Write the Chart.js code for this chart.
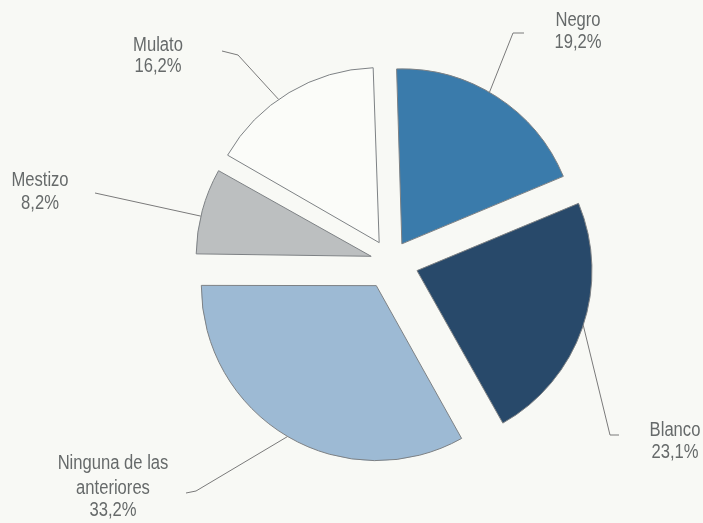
<!DOCTYPE html>
<html>
<head>
<meta charset="utf-8">
<script src="https://cdn.jsdelivr.net/npm/chart.js@4/dist/chart.umd.min.js"></script>
<style>
  html, body { margin: 0; padding: 0; background: #f8f9f5; }
  #wrap { width: 703px; height: 523px; }
</style>
</head>
<body>
<div id="wrap"><canvas id="pieChart" width="703" height="523"></canvas></div>
<script>
// datos (porcentajes)
var categories = [['Negro'], ['Blanco'], ['Ninguna de las', 'anteriores'], ['Mestizo'], ['Mulato']];
var values = [19.2, 23.1, 33.2, 8.2, 16.2];
var colors = ['#3a7bab', '#28496a', '#9dbad4', '#bcbfc0', '#fbfcf9'];

// etiquetas con linea guia: punto en el arco (fraccion), quiebre y texto
var callouts = [
  { frac: 0.46, path: [[513, 33], [524, 33]], x: 578, y: [20, 42] },
  { frac: 0.49, path: [[610, 435], [619, 435]], x: 675, y: [430, 452] },
  { frac: 0.50, path: [[196, 491], [186, 493]], x: 113, y: [463, 488, 510] },
  { frac: 0.44, path: [[95, 193]], x: 40, y: [180, 203] },
  { frac: 0.43, path: [[238, 55], [222, 51]], x: 158, y: [45, 66] }
];

function pct(v) {
  return v.toFixed(1).replace('.', ',') + '%';
}

// el offset de chart.js agranda el radio de los sectores chicos, se corrige aqui
var keepRadius = {
  id: 'keepRadius',
  afterDatasetUpdate: function(chart, args) {
    args.meta.data.forEach(function(arc) {
      var off = (arc.options.offset || 0) / 4;
      var fix = 1 - Math.sin(Math.min(Math.PI, arc.circumference));
      arc.outerRadius -= off * fix;
    });
  }
};

var calloutLabels = {
  id: 'calloutLabels',
  afterDraw: function(chart) {
    var ctx = chart.ctx;
    var arcs = chart.getDatasetMeta(0).data;
    var sx = 0.83; // letra condensada
    arcs.forEach(function(arc, i) {
      var c = callouts[i];
      var off = (arc.options.offset || 0) / 4;
      var fix = 1 - Math.sin(Math.min(Math.PI, arc.circumference));
      var half = (arc.startAngle + arc.endAngle) / 2;
      var cx = arc.x + Math.cos(half) * off;
      var cy = arc.y + Math.sin(half) * off;
      var r = arc.outerRadius + off * fix;
      var a = arc.startAngle + c.frac * (arc.endAngle - arc.startAngle);
      ctx.save();
      ctx.beginPath();
      ctx.moveTo(cx + Math.cos(a) * r, cy + Math.sin(a) * r);
      c.path.forEach(function(p) { ctx.lineTo(p[0], p[1]); });
      ctx.strokeStyle = '#7a7a7a';
      ctx.lineWidth = 1;
      ctx.stroke();

      var lines = categories[i].concat([pct(values[i])]);
      ctx.fillStyle = '#666a6a';
      ctx.font = '20px "Liberation Sans", Arial, sans-serif';
      ctx.textAlign = 'center';
      ctx.textBaseline = 'middle';
      ctx.scale(sx, 1);
      lines.forEach(function(t, k) {
        ctx.fillText(t, c.x / sx, c.y[k]);
      });
      ctx.restore();
    });
  }
};

var chart = new Chart(document.getElementById('pieChart'), {
  type: 'pie',
  data: {
    labels: categories,
    datasets: [{
      data: values,
      backgroundColor: colors,
      borderColor: '#7d8184',
      borderWidth: 1,
      borderJoinStyle: 'miter',
      offset: [84, 112, 112, 80, 88],
      radius: 175
    }]
  },
  options: {
    responsive: false,
    animation: false,
    rotation: -1.8,
    layout: { padding: { left: 78, right: 0, top: 0, bottom: 0 } },
    plugins: {
      legend: { display: false },
      tooltip: { enabled: false }
    },
    events: []
  },
  plugins: [keepRadius, calloutLabels]
});
</script>
</body>
</html>
